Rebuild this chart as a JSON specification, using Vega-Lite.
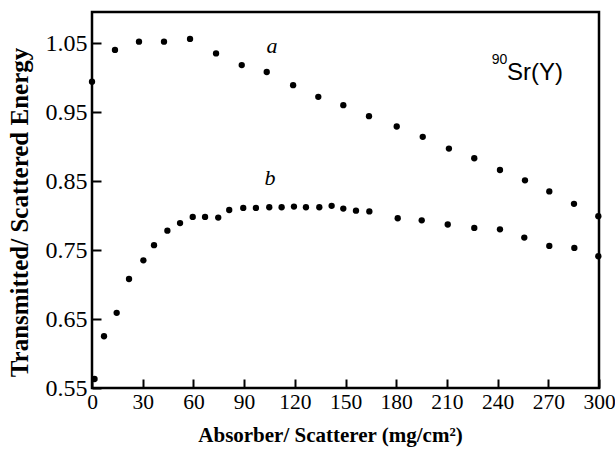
{
  "$schema": "https://vega.github.io/schema/vega-lite/v6.json",
  "width": 507,
  "height": 376,
  "autosize": {"type": "none"},
  "padding": {"left": 92, "top": 12, "right": 16, "bottom": 84},
  "background": "white",
  "config": {
    "view": {"stroke": "black", "strokeWidth": 2.5},
    "axis": {"grid": false, "labelFont": "Liberation Serif", "labelFontSize": 24, "labelColor": "black",
             "titleFont": "Liberation Serif", "titleFontWeight": "bold", "titleFontSize": 21, "titleColor": "black"}
  },
  "datasets": {
    "pts": [
      {"x": 0, "y": 0.994, "s": "a"}, {"x": 13.6, "y": 1.040, "s": "a"}, {"x": 27.8, "y": 1.052, "s": "a"},
      {"x": 42.6, "y": 1.052, "s": "a"}, {"x": 58, "y": 1.056, "s": "a"}, {"x": 73.4, "y": 1.035, "s": "a"},
      {"x": 88.6, "y": 1.018, "s": "a"}, {"x": 103.4, "y": 1.008, "s": "a"}, {"x": 119, "y": 0.989, "s": "a"},
      {"x": 133.9, "y": 0.972, "s": "a"}, {"x": 148.7, "y": 0.960, "s": "a"}, {"x": 163.9, "y": 0.944, "s": "a"},
      {"x": 180.3, "y": 0.929, "s": "a"}, {"x": 195.7, "y": 0.914, "s": "a"}, {"x": 211.2, "y": 0.897, "s": "a"},
      {"x": 226.2, "y": 0.883, "s": "a"}, {"x": 241.4, "y": 0.866, "s": "a"}, {"x": 256.2, "y": 0.851, "s": "a"},
      {"x": 270.6, "y": 0.835, "s": "a"}, {"x": 285.2, "y": 0.817, "s": "a"}, {"x": 299.6, "y": 0.799, "s": "a"},
      {"x": 1.5, "y": 0.563, "s": "b"}, {"x": 7.1, "y": 0.625, "s": "b"}, {"x": 14.6, "y": 0.659, "s": "b"},
      {"x": 21.9, "y": 0.708, "s": "b"}, {"x": 30.4, "y": 0.735, "s": "b"}, {"x": 36.7, "y": 0.757, "s": "b"},
      {"x": 44.6, "y": 0.778, "s": "b"}, {"x": 52.1, "y": 0.789, "s": "b"}, {"x": 59.6, "y": 0.798, "s": "b"},
      {"x": 66.9, "y": 0.798, "s": "b"}, {"x": 74.7, "y": 0.797, "s": "b"}, {"x": 81.2, "y": 0.808, "s": "b"},
      {"x": 89.5, "y": 0.811, "s": "b"}, {"x": 97, "y": 0.811, "s": "b"}, {"x": 104.9, "y": 0.812, "s": "b"},
      {"x": 112.2, "y": 0.812, "s": "b"}, {"x": 119.5, "y": 0.813, "s": "b"}, {"x": 126.6, "y": 0.812, "s": "b"},
      {"x": 134.5, "y": 0.812, "s": "b"}, {"x": 141.8, "y": 0.814, "s": "b"}, {"x": 148.7, "y": 0.810, "s": "b"},
      {"x": 156.2, "y": 0.807, "s": "b"}, {"x": 164.1, "y": 0.806, "s": "b"}, {"x": 180.9, "y": 0.796, "s": "b"},
      {"x": 195.1, "y": 0.793, "s": "b"}, {"x": 210.5, "y": 0.787, "s": "b"}, {"x": 226.2, "y": 0.782, "s": "b"},
      {"x": 241.4, "y": 0.780, "s": "b"}, {"x": 255.8, "y": 0.768, "s": "b"}, {"x": 270.6, "y": 0.756, "s": "b"},
      {"x": 285.4, "y": 0.753, "s": "b"}, {"x": 299.6, "y": 0.741, "s": "b"}
    ],
    "letters": [
      {"x": 106.5, "y": 1.046, "t": "a"},
      {"x": 105.3, "y": 0.854, "t": "b"}
    ],
    "iso": [
      {"x": 236.5, "y": 1.026, "t": "90", "k": "sup"},
      {"x": 245.6, "y": 1.007, "t": "Sr(Y)", "k": "main"}
    ]
  },
  "layer": [
    {
      "data": {"name": "pts"},
      "mark": {"type": "point", "filled": true, "color": "black", "opacity": 1, "size": 40},
      "encoding": {
        "x": {"field": "x", "type": "quantitative",
              "scale": {"domain": [0, 300], "nice": false, "zero": false},
              "axis": {"title": "Absorber/ Scatterer (mg/cm²)", "values": [0,30,60,90,120,150,180,210,240,270,300],
                       "domain": false, "ticks": true, "tickColor": "#000000", "tickWidth": 2, "tickSize": 9, "tickOpacity": 1,
                       "offset": -9, "zindex": 2,
                       "labelPadding": 3, "labelFlush": false, "labelFontSize": 21.5,
                       "titleX": 238, "titleY": 62, "titleBaseline": "alphabetic"}},
        "y": {"field": "y", "type": "quantitative",
              "scale": {"domain": [0.55, 1.095], "nice": false, "zero": false},
              "axis": {"title": "Transmitted/ Scattered Energy",
                       "values": [0.55,0.6,0.65,0.7,0.75,0.8,0.85,0.9,0.95,1.0,1.05],
                       "labelExpr": "indexof(['0.55','0.65','0.75','0.85','0.95','1.05'], format(datum.value,'.2f')) >= 0 ? format(datum.value,'.2f') : ''",
                       "domain": false, "ticks": true, "tickColor": "#000000", "tickWidth": 2, "tickSize": 9, "tickOpacity": 1,
                       "offset": -9, "zindex": 2,
                       "labelPadding": 5, "labelFlush": false,
                       "titleFontSize": 25, "titleX": -74, "titleY": 200, "titleBaseline": "alphabetic"}}
      }
    },
    {
      "data": {"name": "letters"},
      "mark": {"type": "text", "font": "Liberation Serif", "fontStyle": "italic", "fontSize": 22, "color": "black"},
      "encoding": {
        "x": {"field": "x", "type": "quantitative"},
        "y": {"field": "y", "type": "quantitative"},
        "text": {"field": "t"}
      }
    },
    {
      "data": {"name": "iso"},
      "mark": {"type": "text", "font": "Liberation Sans", "align": "left", "baseline": "middle", "color": "black"},
      "encoding": {
        "x": {"field": "x", "type": "quantitative"},
        "y": {"field": "y", "type": "quantitative"},
        "text": {"field": "t"},
        "size": {"field": "k", "type": "nominal", "scale": {"domain": ["sup", "main"], "range": [14, 24]}, "legend": null}
      }
    }
  ]
}
